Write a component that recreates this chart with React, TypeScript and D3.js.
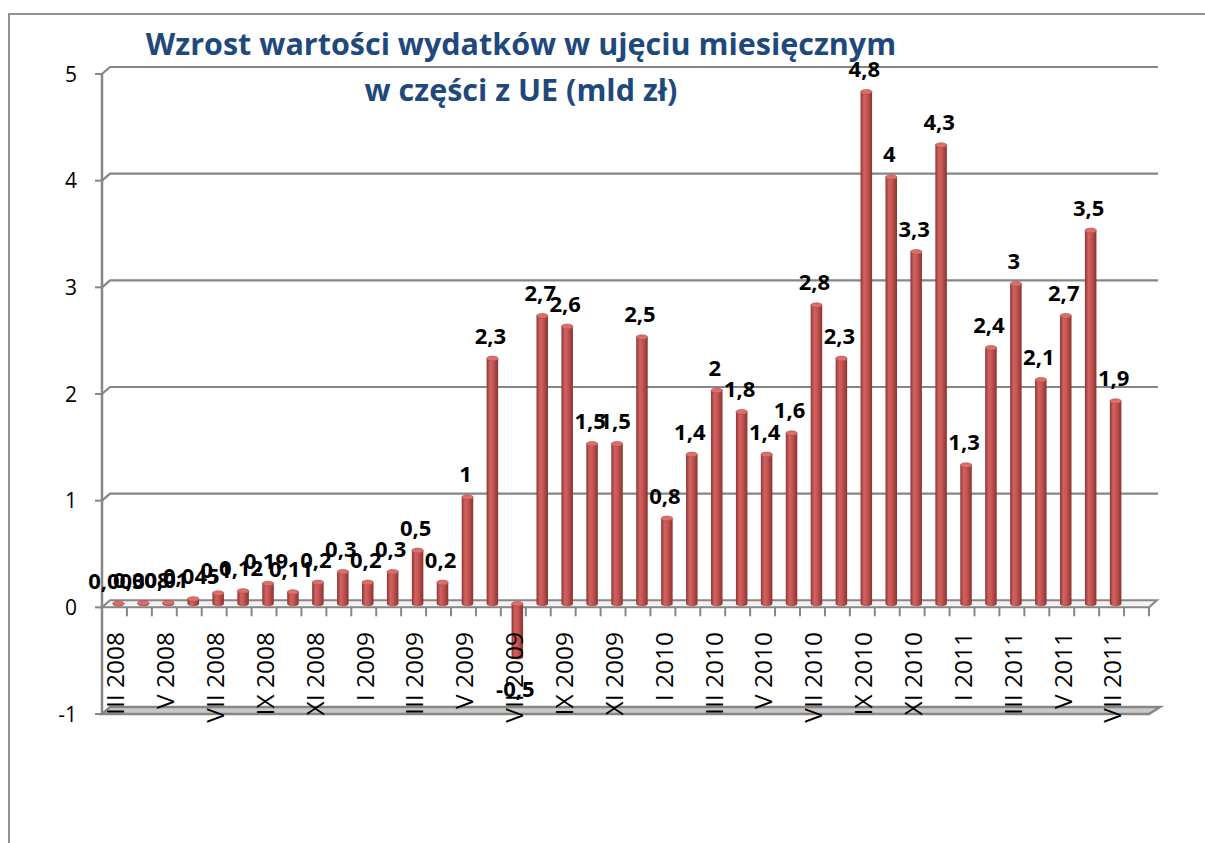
import * as d3 from 'd3';

// months on the category axis (last one stays empty)
const months = [
  "III 2008", "IV 2008", "V 2008", "VI 2008", "VII 2008", "VIII 2008", "IX 2008", "X 2008", "XI 2008", "XII 2008",
  "I 2009", "II 2009", "III 2009", "IV 2009", "V 2009", "VI 2009", "VII 2009", "VIII 2009", "IX 2009", "X 2009", "XI 2009", "XII 2009",
  "I 2010", "II 2010", "III 2010", "IV 2010", "V 2010", "VI 2010", "VII 2010", "VIII 2010", "IX 2010", "X 2010", "XI 2010", "XII 2010",
  "I 2011", "II 2011", "III 2011", "IV 2011", "V 2011", "VI 2011", "VII 2011", "VIII 2011",
];

// monthly growth of spending, bln zł
const values = [
  0.003, 0.008, 0.01, 0.045, 0.1, 0.12, 0.19, 0.11, 0.2, 0.3,
  0.2, 0.3, 0.5, 0.2, 1, 2.3, -0.5, 2.7, 2.6, 1.5, 1.5, 2.5,
  0.8, 1.4, 2, 1.8, 1.4, 1.6, 2.8, 2.3, 4.8, 4, 3.3, 4.3,
  1.3, 2.4, 3, 2.1, 2.7, 3.5, 1.9,
];

const yTicks = [-1, 0, 1, 2, 3, 4, 5];
const titleLines = ["Wzrost wartości wydatków w ujęciu miesięcznym", "w części z UE (mld zł)"];

const width = 1205;
const height = 843;
const plotLeft = 102;
const plotRight = 1149;
const plotTop = 74;
const plotBottom = 714;
// 3D depth of the walls
const dx = 8;
const dy = -7;
const grey = "#868686";
const font = "'Open Sans', sans-serif";

const fmt = (v: number) => String(v).replace(".", ",");

export default function App() {
  const x = d3.scaleBand(months, [plotLeft, plotRight]);
  const y = d3.scaleLinear([-1, 5], [plotBottom, plotTop]);
  const bw = 11.5;
  const y0 = y(0);

  return (
    <svg width={width} height={height} style={{ position: "absolute", left: 0, top: 0 }}
      fontFamily={font}>
      <defs>
        <linearGradient id="cyl" x1="0" x2="1" y1="0" y2="0">
          <stop offset="0" stopColor="#8e3432" />
          <stop offset="0.3" stopColor="#d0625f" />
          <stop offset="0.55" stopColor="#c65653" />
          <stop offset="1" stopColor="#8a3331" />
        </linearGradient>
      </defs>
      <rect width={width} height={height} fill="white" />
      {/* chart area border */}
      <rect x={9} y={14} width={1300} height={900} fill="none" stroke={grey} strokeWidth={1.8} />

      {/* back wall gridlines */}
      {yTicks.filter(t => t > 0).map(t => (
        <polyline key={t} fill="none" stroke={grey} strokeWidth={2.2}
          points={`${plotLeft},${y(t)} ${plotLeft + dx},${y(t) + dy} ${plotRight + dx + 1},${y(t) + dy}`} />
      ))}

      {/* bottom floor at -1 */}
      <polygon fill="#c8c8c8" stroke={grey} strokeWidth={2.5}
        points={`${plotLeft},${plotBottom} ${plotRight},${plotBottom} ${plotRight + dx + 3},${plotBottom + dy} ${plotLeft + dx},${plotBottom + dy}`} />

      {/* floor at 0 */}
      <polygon fill="#f2f2f2" stroke={grey} strokeWidth={2}
        points={`${plotLeft},${y0} ${plotRight},${y0} ${plotRight + dx},${y0 + dy} ${plotLeft + dx},${y0 + dy}`} />
      {months.map((m, i) => (
        <line key={m} x1={plotLeft + (i + 1) * x.bandwidth()} x2={plotLeft + (i + 1) * x.bandwidth()}
          y1={y0} y2={y0 + 9} stroke={grey} strokeWidth={2} />
      ))}

      {/* left wall edge and y ticks */}
      <line x1={plotLeft} x2={plotLeft} y1={plotTop} y2={plotBottom} stroke={grey} strokeWidth={2.5} />
      {yTicks.map(t => (
        <g key={t}>
          <line x1={plotLeft - 7} x2={plotLeft} y1={y(t)} y2={y(t)} stroke={grey} strokeWidth={2} />
          <text x={77} y={y(t)} dy="0.36em" textAnchor="end" fontSize={21} fill="#000">{fmt(t)}</text>
        </g>
      ))}

      {/* bars as cylinders */}
      {values.map((v, i) => {
        const cx = (x(months[i]) as number) + x.bandwidth() / 2 + dx / 2;
        const top = Math.min(y(v), y0) + dy / 2;
        const bot = Math.max(y(v), y0) + dy / 2;
        const ry = 2.4;
        return (
          <g key={i}>
            <path fill="url(#cyl)"
              d={`M${cx - bw / 2},${top} V${bot} A${bw / 2},${ry} 0 0 0 ${cx + bw / 2},${bot} V${top} Z`} />
            <ellipse cx={cx} cy={top} rx={bw / 2} ry={ry} fill="#d9706c" stroke="#b24744" strokeWidth={0.6} />
          </g>
        );
      })}

      {/* category labels */}
      {months.map((m, i) => i % 2 === 0 && i < values.length ? (
        <text key={m} transform={`translate(${(x(m) as number) + x.bandwidth() / 2 + 1},632) rotate(-90)`}
          dy="0.36em" textAnchor="end" fontSize={24.5} fill="#000">{m}</text>
      ) : null)}

      {/* data labels */}
      {values.map((v, i) => {
        const cx = (x(months[i]) as number) + x.bandwidth() / 2 + dx / 2 - 2;
        const ly = v >= 0 ? y(v) + dy / 2 - 15 : y(v) + dy / 2 + 40;
        return (
          <text key={i} x={cx} y={ly} textAnchor="middle" fontSize={22} fontWeight="bold" fill="#000">
            {fmt(v)}
          </text>
        );
      })}

      {/* title */}
      {titleLines.map((t, i) => (
        <text key={t} x={521} y={55 + i * 46} textAnchor="middle" fontSize={30.5} fontWeight="bold" fill="#1f497d">
          {t}
        </text>
      ))}
    </svg>
  );
}
